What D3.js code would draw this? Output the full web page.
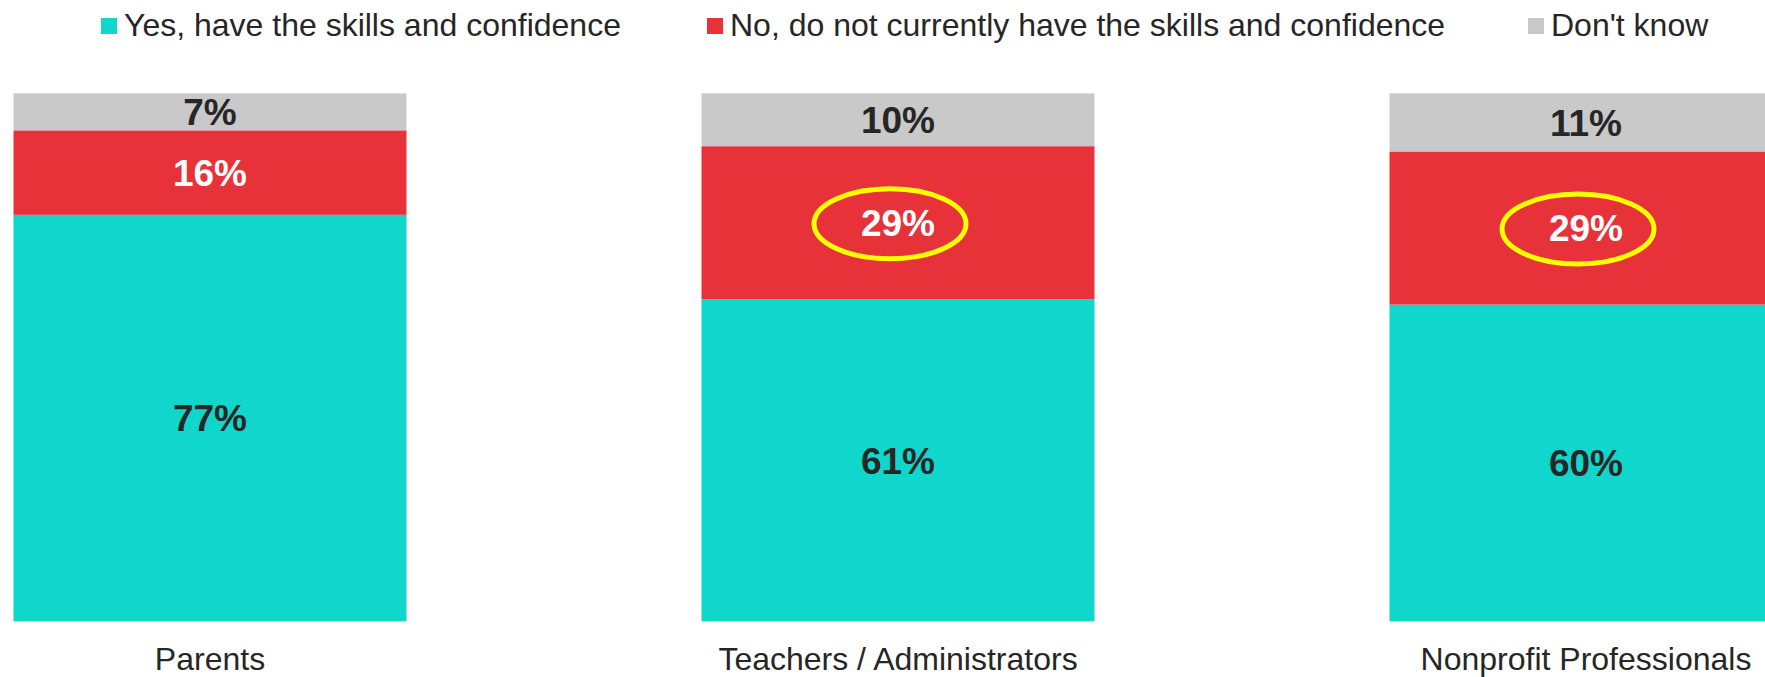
<!DOCTYPE html>
<html><head><meta charset="utf-8">
<script src="https://cdn.jsdelivr.net/npm/d3@7"></script>
<style>
html,body{margin:0;padding:0;background:#fff;}
svg{display:block;font-family:Arial,"Liberation Sans",sans-serif;}
</style></head>
<body><svg id="c" width="1765" height="677"></svg>
<script>
const categories = ["Parents", "Teachers / Administrators", "Nonprofit Professionals"];
const seriesNames = ["Yes, have the skills and confidence", "No, do not currently have the skills and confidence", "Don't know"];
const yesValues = [77, 61, 60];
const noValues = [16, 29, 29];
const dontKnowValues = [7, 10, 11];
const highlightNo = [false, true, true];

const colors = ["#10D6CC", "#E8323A", "#C9C9C9"];
const labelColors = ["#262626", "#ffffff", "#262626"];

const svg = d3.select("#c");
const x = d3.scaleBand().domain(categories).range([13.5, 1782.5]).paddingInner(0.4288).paddingOuter(0);
const y = d3.scaleLinear().domain([0, 100]).range([621.4, 93.4]);

const rows = categories.map((c, i) => ({cat: c, yes: yesValues[i], no: noValues[i], dk: dontKnowValues[i], hl: highlightNo[i]}));
const keys = ["yes", "no", "dk"];
const stacked = d3.stack().keys(keys)(rows);

stacked.forEach((layer, li) => {
  const g = svg.append("g");
  g.selectAll("rect").data(layer).enter().append("rect")
    .attr("x", d => x(d.data.cat))
    .attr("width", x.bandwidth())
    .attr("y", d => y(d[1]))
    .attr("height", d => y(d[0]) - y(d[1]))
    .attr("fill", colors[li]);
  g.selectAll("text").data(layer).enter().append("text")
    .attr("x", d => x(d.data.cat) + x.bandwidth() / 2)
    .attr("y", d => (y(d[0]) + y(d[1])) / 2)
    .attr("dy", "0.36em")
    .attr("text-anchor", "middle")
    .attr("font-size", 37)
    .attr("font-weight", "bold")
    .attr("fill", labelColors[li])
    .text(d => d.data[keys[li]] + "%");
  if (keys[li] === "no") {
    g.selectAll("ellipse").data(layer.filter(d => d.data.hl)).enter().append("ellipse")
      .attr("cx", d => x(d.data.cat) + x.bandwidth() / 2 - 8)
      .attr("cy", d => (y(d[0]) + y(d[1])) / 2 + 1)
      .attr("rx", 76)
      .attr("ry", 35)
      .attr("fill", "none")
      .attr("stroke", "#FFFF00")
      .attr("stroke-width", 5);
  }
});

// category labels
svg.append("g").selectAll("text").data(categories).enter().append("text")
  .attr("x", d => x(d) + x.bandwidth() / 2)
  .attr("y", 670)
  .attr("text-anchor", "middle")
  .attr("font-size", 32)
  .attr("fill", "#262626")
  .text(d => d);

// legend
const legendX = [101, 707, 1528];
const lg = svg.append("g");
seriesNames.forEach((n, i) => {
  lg.append("rect").attr("x", legendX[i]).attr("y", 18).attr("width", 16).attr("height", 16).attr("fill", colors[i]);
  lg.append("text").attr("x", legendX[i] + 23).attr("y", 36).attr("font-size", 32).attr("fill", "#262626").text(n);
});
</script>
</body></html>
